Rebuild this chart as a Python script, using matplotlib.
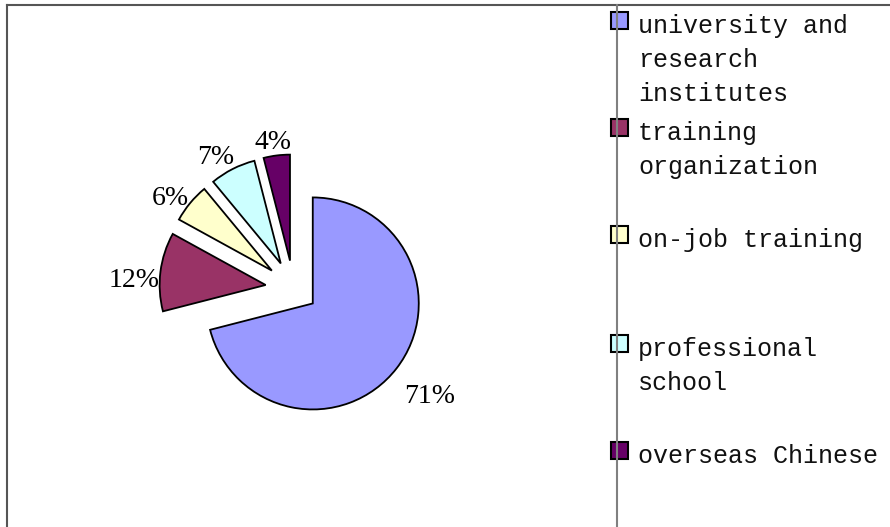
import math
import matplotlib
matplotlib.use("Agg")
import matplotlib.pyplot as plt
from matplotlib.lines import Line2D
from matplotlib.patches import Rectangle

# data
labels = ["university and\nresearch\ninstitutes", "training\norganization",
          "on-job training", "professional\nschool", "overseas Chinese"]
shares = [71, 12, 6, 7, 4]
colors = ["#9999FF", "#993366", "#FFFFCC", "#CCFFFF", "#660066"]
explode = [0.23, 0.265, 0.265, 0.265, 0.265]

# label distance from slice tip (in radii) plus small pixel nudges (dx, dy down)
label_dist = [1.39, 1.25, 1.20, 1.21, 1.16]
label_nudge = [(0, 0), (0, 9), (-4, 6), (-7, 5), (-2, 1)]

W, H = 890, 527
fig = plt.figure(figsize=(W / 100, H / 100), dpi=100)

# pie axes: centre at (293.5, 288.5) px, radius 106 px
R = 106.0
cx, cy = 293.5, 288.5
side = 320
ax = fig.add_axes([(cx - side / 2) / W, (H - cy - side / 2) / H, side / W, side / H])

wedges, texts, autotexts = ax.pie(
    shares, colors=colors, explode=explode, startangle=90, counterclock=False,
    autopct=lambda p: f"{p:.0f}%", pctdistance=1.22,
    wedgeprops=dict(edgecolor="black", linewidth=1.3),
    textprops=dict(family="Liberation Serif", fontsize=20, color="black"))
lim = side / 2 / R
ax.set_xlim(-lim, lim)
ax.set_ylim(-lim, lim)
ax.set_aspect("equal")
ax.axis("off")

# move percentage labels to where the reference has them
for w, t, d, (nx, ny) in zip(wedges, autotexts, label_dist, label_nudge):
    mid = math.radians((w.theta1 + w.theta2) / 2)
    ox, oy = w.center
    t.set_position((ox + d * math.cos(mid) + nx / R,
                    oy + d * math.sin(mid) - (9.5 + ny) / R))
    t.set_verticalalignment("baseline")
    t.set_horizontalalignment("center")

# frame lines
def fline(x0, y0, x1, y1, c, lw):
    fig.add_artist(Line2D([x0 / W, x1 / W], [1 - y0 / H, 1 - y1 / H],
                          transform=fig.transFigure, color=c, linewidth=lw))

fline(7, 5, W, 5, "#555555", 1.5)
fline(7, 5, 7, H, "#555555", 1.5)
fline(617, 5, 617, H, "#808080", 1.5)

# legend
baselines = [33, 140, 247, 356, 463]
step = 34
for lab, col, b in zip(labels, colors, baselines):
    fig.add_artist(Rectangle(((619 - 8.5) / W, 1 - (b - 13 + 8.5) / H), 17 / W, 17 / H,
                             transform=fig.transFigure, facecolor=col,
                             edgecolor="black", linewidth=1.5))
    for k, line in enumerate(lab.split("\n")):
        fig.text(638 / W, 1 - (b + k * step) / H, line, family="Liberation Mono",
                 fontsize=18, va="baseline", ha="left", color="#111111")

fig.savefig("out.png", dpi=100)
